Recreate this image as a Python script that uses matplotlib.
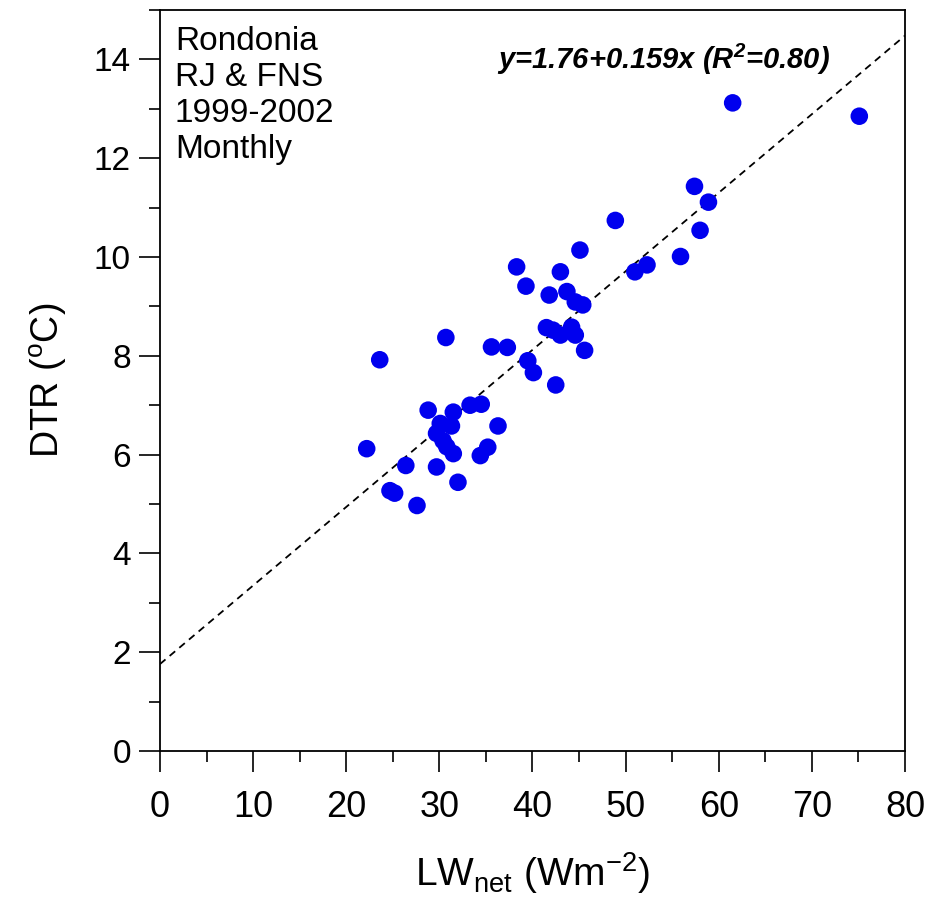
import numpy as np
import matplotlib
matplotlib.use("Agg")
import matplotlib.pyplot as plt
from matplotlib.ticker import MultipleLocator

plt.rcParams['font.family'] = ['Liberation Sans', 'DejaVu Sans']
plt.rcParams['mathtext.fontset'] = 'custom'
plt.rcParams['mathtext.rm'] = 'Liberation Sans'
plt.rcParams['mathtext.it'] = 'Liberation Sans:italic'
plt.rcParams['mathtext.bf'] = 'Liberation Sans:italic:bold'

# monthly LW_net (Wm-2) vs DTR (C)
lw_net = [61.5, 75.1, 57.4, 58.9, 48.9, 58.0, 55.9, 52.3, 51.0,
          45.1, 38.3, 43.0, 39.3, 41.8, 43.7, 44.6, 45.4, 41.5, 42.2,
          43.0, 44.2, 44.6, 35.6, 37.3, 45.6, 39.5, 40.1, 42.5,
          23.6, 30.7,
          28.8, 31.5, 33.3, 34.5, 30.1, 31.3, 29.7, 30.4, 31.5, 30.8,
          22.2, 26.4, 29.7, 32.0, 34.4, 35.2, 24.7, 25.2, 27.6, 36.3]
dtr = [13.12, 12.85, 11.43, 11.11, 10.74, 10.54, 10.01, 9.84, 9.70,
       10.14, 9.80, 9.70, 9.41, 9.23, 9.30, 9.09, 9.03, 8.57, 8.52,
       8.42, 8.58, 8.42, 8.18, 8.17, 8.11, 7.90, 7.66, 7.41,
       7.92, 8.37,
       6.90, 6.86, 7.00, 7.02, 6.63, 6.58, 6.43, 6.28, 6.02, 6.16,
       6.12, 5.78, 5.75, 5.44, 5.98, 6.15, 5.27, 5.22, 4.97, 6.58]

# regression y = a + b x
fit_a, fit_b = 1.76, 0.159
fit_x = np.array([0, 80])

info_lines = ["Rondonia", "RJ & FNS", "1999-2002", "Monthly"]
eq_text = r"y=1.76+0.159x (R$^{\mathbf{2}}$=0.80)"

fig = plt.figure(figsize=(9.29, 9.16), dpi=100)
ax = fig.add_axes([0.1722, 0.1801, 0.8019, 0.8090])

ax.plot(fit_x, fit_a + fit_b * fit_x, color='black', lw=1.3,
        linestyle=(0, (4, 3)), zorder=2)
ax.scatter(lw_net, dtr, s=160, color='#0000ee', edgecolors='none', zorder=3)

ax.set_xlim(0, 80)
ax.set_ylim(0, 15)
ax.xaxis.set_major_locator(MultipleLocator(10))
ax.xaxis.set_minor_locator(MultipleLocator(5))
ax.yaxis.set_major_locator(MultipleLocator(2))
ax.yaxis.set_minor_locator(MultipleLocator(1))
ax.tick_params(which='major', direction='out', length=15, width=1.2)
ax.tick_params(which='minor', direction='out', length=8, width=1.2)
ax.tick_params(axis='x', labelsize=26, pad=13)
ax.tick_params(axis='y', labelsize=24, pad=6)
for s in ax.spines.values():
    s.set_linewidth(1.3)

ax.set_xlabel(r'LW$_{\rm net}$ (Wm$^{-2}$)', fontsize=28, labelpad=18)
ax.set_ylabel(r'DTR ($^{\rm o}$C)', fontsize=27, labelpad=18)

ax.text(0.02, 0.978, "\n".join(info_lines), transform=ax.transAxes,
        fontsize=24, va='top', ha='left', linespacing=1.2)
ax.text(0.899, 0.933, eq_text, transform=ax.transAxes, fontsize=21,
        fontweight='bold', fontstyle='italic', ha='right', va='center')

fig.savefig("out.png", dpi=100)
